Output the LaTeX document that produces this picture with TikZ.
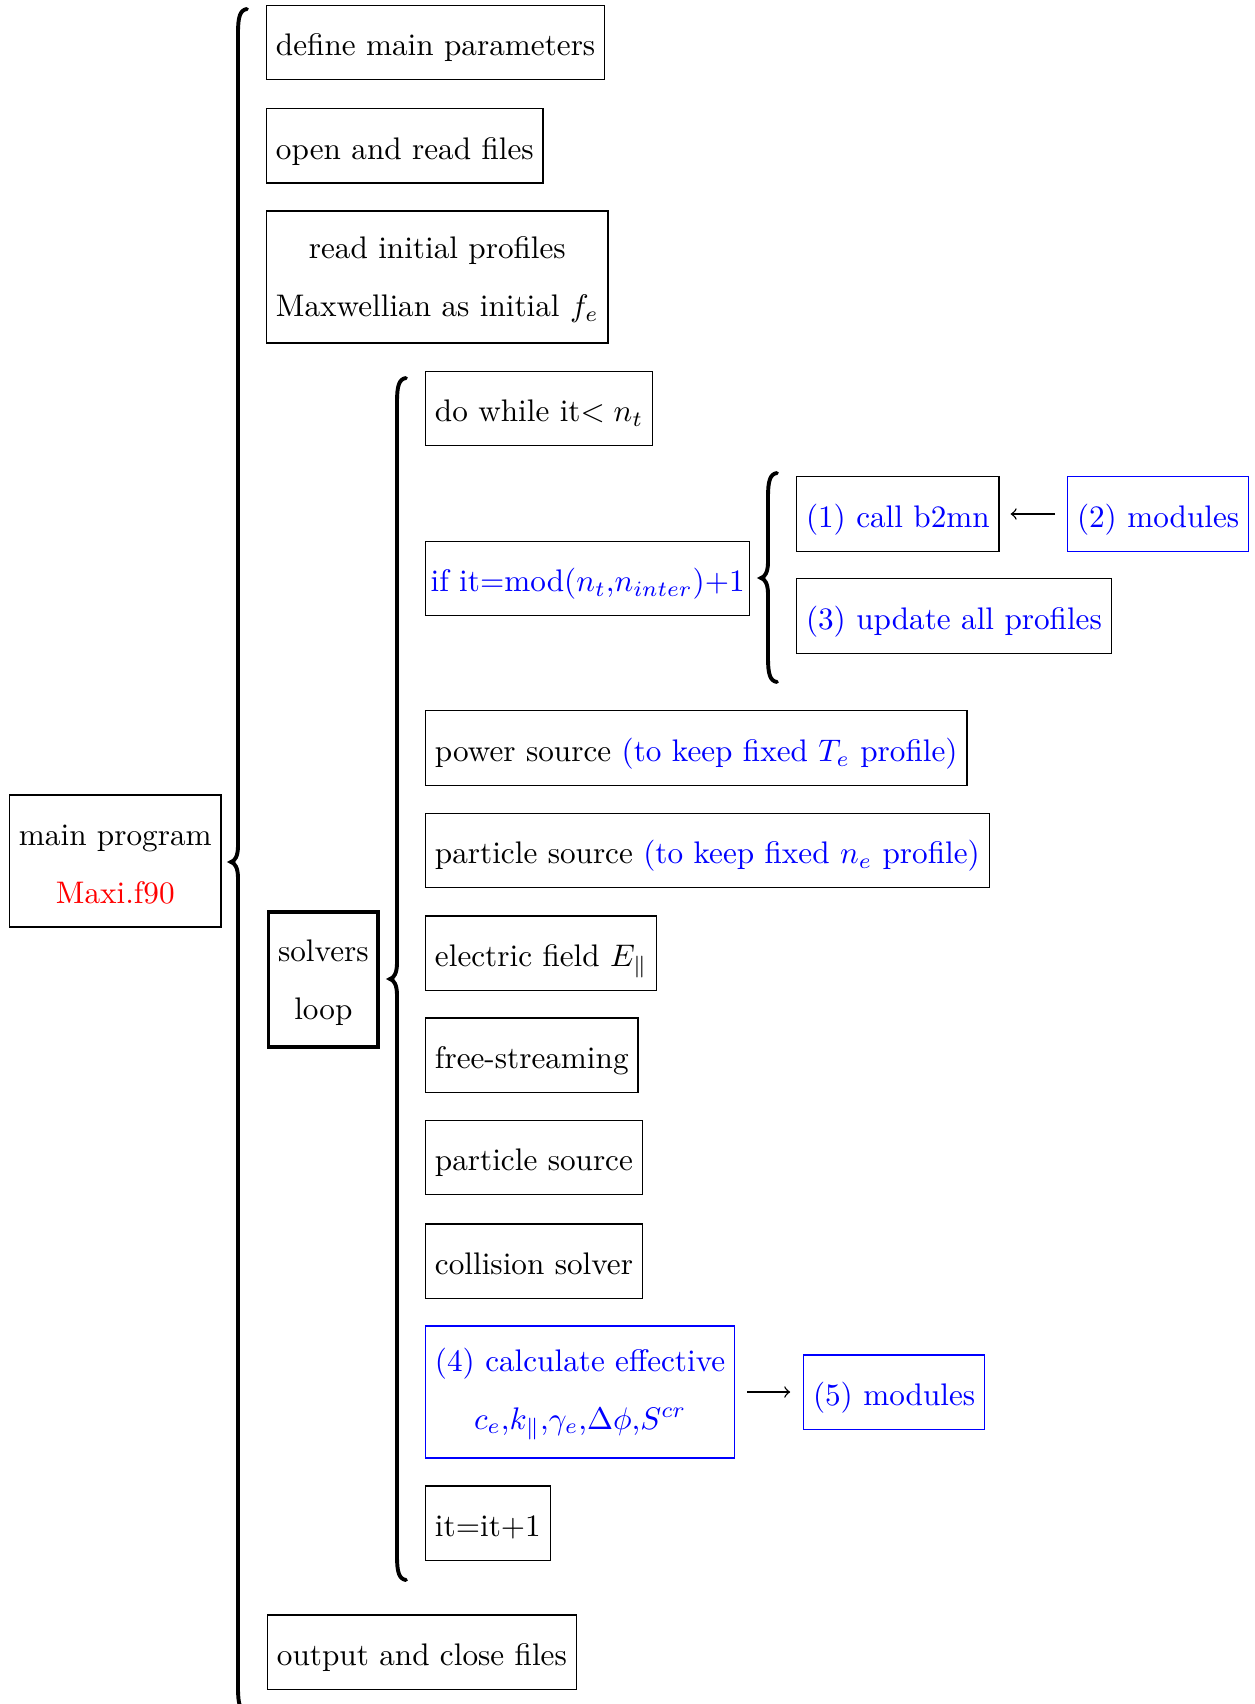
\documentclass[tikz,border=0pt]{standalone}
\usetikzlibrary{arrows.meta}
\begin{document}
\begin{tikzpicture}[x=0.3205pt,y=-0.3205pt,
  base/.style={draw, inner xsep=3pt, inner ysep=0pt, anchor=west},
  box/.style={base, text height=16.2pt, text depth=7.6pt, minimum height=23.8pt},
  tbox/.style={base, align=center, minimum height=42.3pt},
  bbox/.style={box, draw=blue, text=blue},
  braceline/.style={line width=1.25pt, line cap=round},
  arr/.style={-to, line width=0.45pt}]
\useasboundingbox (0,0) rectangle (1254,1704);
\newcommand\bracepath[4]{%
  \draw[braceline] (#1+9,#2) .. controls (#1+2,#2+1) and (#1,#2+8) .. (#1,#2+24)
    -- (#1,#3-16) .. controls (#1,#3-6) and (#1-3,#3-1) .. (#1-7,#3)
    .. controls (#1-3,#3+1) and (#1,#3+6) .. (#1,#3+16)
    -- (#1,#4-24) .. controls (#1,#4-8) and (#1+2,#4-1) .. (#1+9,#4);}
\newcommand\topstrut{\rule{0pt}{8.8pt}}

% left column
\node[tbox] (main) at (9,861) {\topstrut main program\\[6.6pt]\textcolor{red}{Maxi.f90}};
\bracepath{238}{9}{862}{1712}

\node[box] (def) at (266,42.5) {define main parameters};
\node[box] (open) at (266,146) {open and read files};
\node[tbox] (init) at (266,277) {\topstrut read initial profiles\\[6.6pt]Maxwellian as initial $f_e$};
\node[tbox, line width=1.1pt, minimum height=43.3pt] (solv) at (267,979.5) {\topstrut solvers\\[6.6pt]loop};
\node[box] (out) at (267,1652) {output and close files};

\bracepath{397}{378}{979}{1580}

% loop column
\node[box] (dowhile) at (425,408.5) {do while it$< n_t$};
\node[box, text=blue, inner xsep=1.6pt] (ifit) at (425,578.5) {if it=mod($n_t$,$n_{inter}$)+1};
\node[box] (power) at (425,748) {power source \textcolor{blue}{(to keep fixed $T_e$ profile)}};
\node[box] (psrcA) at (425,850.5) {particle source \textcolor{blue}{(to keep fixed $n_e$ profile)}};
\node[box] (efield) at (425,953) {electric field $E_\parallel$};
\node[box] (free) at (425,1055) {free-streaming};
\node[box] (psrcB) at (425,1157.5) {particle source};
\node[box] (coll) at (425,1261) {collision solver};
\node[tbox, draw=blue, text=blue] (calc) at (425,1392) {\topstrut (4) calculate effective\\[6.6pt]$c_e$,$k_\parallel$,$\gamma_e$,$\Delta\phi$,$S^{cr}$};
\node[bbox] (mod5) at (803,1392) {(5) modules};
\node[box] (itp) at (425,1523) {it=it+1};

% if branch
\bracepath{768}{473}{578}{682}
\node[box, text=blue] (call) at (796,514) {(1) call b2mn};
\node[bbox] (mod2) at (1067,514) {(2) modules};
\node[box, text=blue] (upd) at (796,616) {(3) update all profiles};

\draw[arr, shorten <=3.8pt, shorten >=3.5pt] (mod2.west) -- (call.east);
\draw[arr, shorten <=3.8pt, shorten >=4.1pt] (calc.east) -- (mod5.west);
\end{tikzpicture}
\end{document}
